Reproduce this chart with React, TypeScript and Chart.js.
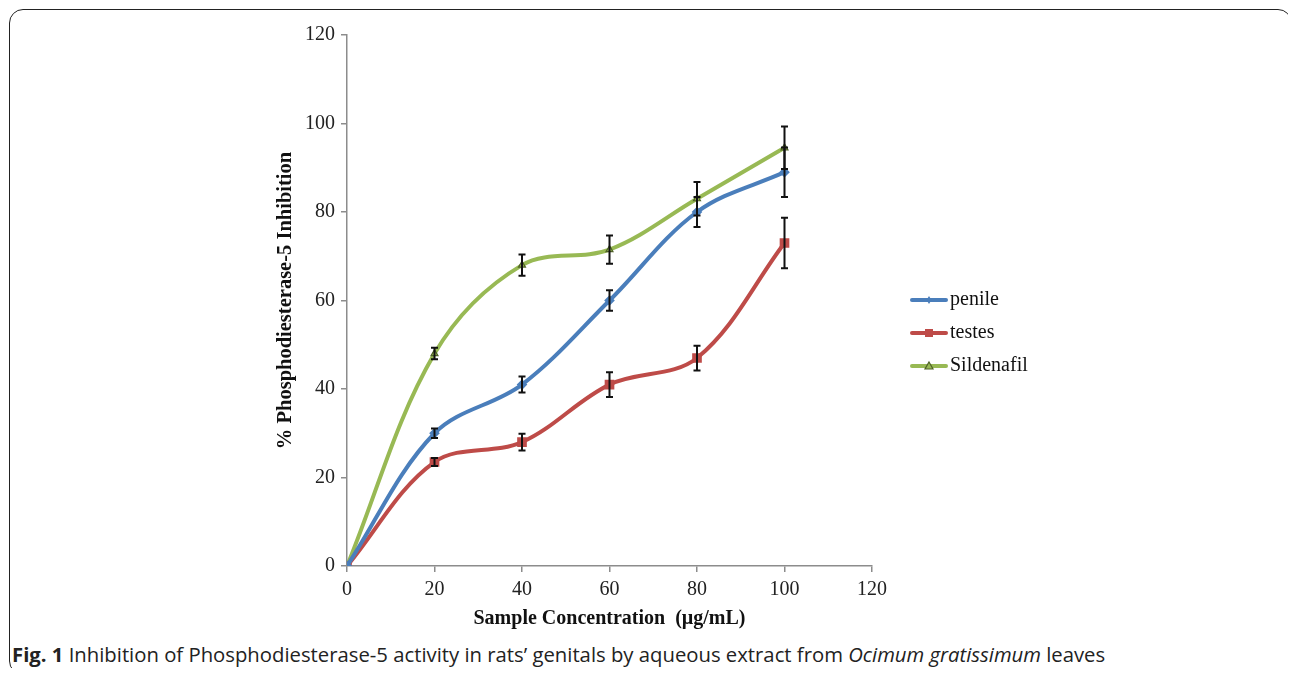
import React, { useEffect, useRef } from "react";
import { Chart, registerables } from "chart.js";

Chart.register(...registerables);

const concentrations = [0, 20, 40, 60, 80, 100];
const penile = [0, 30, 41, 60, 80, 89];
const penileErr = [0, 1.1, 1.8, 2.3, 3.4, 5.6];
const testes = [0, 23.5, 28, 41, 47, 73];
const testesErr = [0, 0.9, 1.9, 2.8, 2.8, 5.7];
const sildenafil = [0, 48, 68, 71.5, 83, 94.5];
const sildenafilErr = [0, 1.3, 2.4, 3.2, 3.8, 4.8];

const seriesNames = ["penile", "testes", "Sildenafil"];
const seriesColors = ["#4A7EBB", "#BE4B48", "#98B954"];
const yTicks = [0, 20, 40, 60, 80, 100, 120];
const xTitle = "Sample Concentration  (\u00b5g/mL)";
const yTitle = "% Phosphodiesterase-5 Inhibition";

const SERIF = "'Liberation Serif', 'Times New Roman', serif";

const errorBarPlugin = {
  id: "errorBars",
  afterDatasetsDraw(chart: any) {
    const { ctx, scales } = chart;
    const xs = scales.x;
    const ys = scales.y;
    ctx.save();
    ctx.strokeStyle = "#111";
    ctx.lineWidth = 2;
    chart.data.datasets.forEach((ds: any) => {
      const errs: number[] = ds.errors || [];
      ds.data.forEach((p: any, i: number) => {
        const e = errs[i];
        if (!e) return;
        const x = xs.getPixelForValue(p.x);
        const yt = ys.getPixelForValue(p.y + e);
        const yb = ys.getPixelForValue(p.y - e);
        ctx.beginPath();
        ctx.moveTo(x, yt);
        ctx.lineTo(x, yb);
        ctx.moveTo(x - 3.5, yt);
        ctx.lineTo(x + 3.5, yt);
        ctx.moveTo(x - 3.5, yb);
        ctx.lineTo(x + 3.5, yb);
        ctx.stroke();
      });
    });
    ctx.restore();
  },
};

const legendPlugin = {
  id: "customLegend",
  afterDraw(chart: any) {
    const { ctx } = chart;
    const x0 = 912;
    const x1 = 946;
    const rows = [300, 333, 366];
    ctx.save();
    chart.data.datasets.forEach((ds: any, i: number) => {
      const y = rows[i];
      ctx.strokeStyle = ds.borderColor;
      ctx.lineWidth = 4;
      ctx.lineCap = "round";
      ctx.beginPath();
      ctx.moveTo(x0, y);
      ctx.lineTo(x1, y);
      ctx.stroke();
      const cx = (x0 + x1) / 2;
      ctx.lineCap = "butt";
      if (ds.pointStyle === "rect") {
        ctx.fillStyle = ds.pointBackgroundColor;
        ctx.fillRect(cx - 4, y - 4, 8, 8);
      } else if (ds.pointStyle === "triangle") {
        ctx.fillStyle = ds.pointBackgroundColor;
        ctx.strokeStyle = ds.pointBorderColor;
        ctx.lineWidth = 1.2;
        ctx.beginPath();
        ctx.moveTo(cx, y - 4);
        ctx.lineTo(cx + 4, y + 3);
        ctx.lineTo(cx - 4, y + 3);
        ctx.closePath();
        ctx.fill();
        ctx.stroke();
      } else {
        ctx.fillStyle = ds.pointBackgroundColor;
        ctx.beginPath();
        ctx.moveTo(cx, y - 4);
        ctx.lineTo(cx + 2.5, y);
        ctx.lineTo(cx, y + 4);
        ctx.lineTo(cx - 2.5, y);
        ctx.closePath();
        ctx.fill();
      }
      ctx.fillStyle = "#111";
      ctx.font = `20px ${SERIF}`;
      ctx.textAlign = "left";
      ctx.textBaseline = "middle";
      ctx.fillText(ds.label, x1 + 4, y);
    });
    ctx.restore();
  },
};

export default function App() {
  const canvasRef = useRef<HTMLCanvasElement | null>(null);

  useEffect(() => {
    document.documentElement.style.overflow = "hidden";
    const canvas = canvasRef.current;
    if (!canvas) return;
    const mk = (vals: number[]) => concentrations.map((c, i) => ({ x: c, y: vals[i] }));
    const chart = new Chart(canvas, {
      type: "line",
      data: {
        datasets: [
          {
            label: seriesNames[0],
            data: mk(penile),
            errors: penileErr,
            borderColor: seriesColors[0],
            backgroundColor: seriesColors[0],
            pointBackgroundColor: seriesColors[0],
            pointBorderColor: seriesColors[0],
            pointStyle: "rectRot",
            pointRadius: 2.5,
            borderWidth: 4,
            tension: 0.35,
          } as any,
          {
            label: seriesNames[1],
            data: mk(testes),
            errors: testesErr,
            borderColor: seriesColors[1],
            backgroundColor: seriesColors[1],
            pointBackgroundColor: seriesColors[1],
            pointBorderColor: seriesColors[1],
            pointStyle: "rect",
            pointRadius: 4,
            borderWidth: 4,
            tension: 0.35,
          } as any,
          {
            label: seriesNames[2],
            data: mk(sildenafil),
            errors: sildenafilErr,
            borderColor: seriesColors[2],
            backgroundColor: seriesColors[2],
            pointBackgroundColor: seriesColors[2],
            pointBorderColor: "#4F6228",
            pointBorderWidth: 1.2,
            pointStyle: "triangle",
            pointRadius: 4,
            borderWidth: 4,
            tension: 0.35,
          } as any,
        ],
      },
      options: {
        animation: false,
        responsive: false,
        maintainAspectRatio: false,
        layout: { padding: { left: 269, right: 424, top: 35, bottom: 5 } },
        plugins: { legend: { display: false }, tooltip: { enabled: false } },
        scales: {
          x: {
            type: "linear",
            min: 0,
            max: 120,
            afterFit: (s: any) => {
              s.height = 69;
            },
            border: { color: "#8c8c8c", width: 1.5 },
            grid: { drawOnChartArea: false, tickLength: 6, color: "#8c8c8c", lineWidth: 1.5 },
            ticks: {
              stepSize: 20,
              padding: 6,
              color: "#222",
              font: { family: SERIF, size: 20 },
            },
            title: {
              display: true,
              text: xTitle,
              color: "#111",
              padding: 4,
              font: { family: SERIF, size: 20, weight: "bold" },
            },
          },
          y: {
            min: 0,
            max: 120,
            afterFit: (s: any) => {
              s.width = 78;
            },
            afterBuildTicks: (s: any) => {
              s.ticks = yTicks.map((v) => ({ value: v }));
            },
            border: { color: "#8c8c8c", width: 1.5 },
            grid: { drawOnChartArea: false, tickLength: 6, color: "#8c8c8c", lineWidth: 1.5 },
            ticks: {
              padding: 6,
              color: "#222",
              font: { family: SERIF, size: 20 },
            },
            title: {
              display: true,
              text: yTitle,
              color: "#111",
              padding: 4,
              font: { family: SERIF, size: 20.5, weight: "bold" },
            },
          },
        },
      } as any,
      plugins: [errorBarPlugin, legendPlugin],
    });
    return () => chart.destroy();
  }, []);

  return (
    <div style={{ position: "relative", width: 1280, height: 660 }}>
      <div
        style={{
          position: "absolute",
          left: 1,
          top: 1,
          width: 1283,
          height: 666,
          border: "1.5px solid #222",
          borderRadius: 14,
          boxSizing: "border-box",
        }}
      />
      <canvas
        ref={canvasRef}
        width={1296}
        height={640}
        style={{ position: "absolute", left: -8, top: -8, width: 1296, height: 640 }}
      />
      <div
        style={{
          position: "absolute",
          left: 4,
          top: 632,
          fontFamily: "'Open Sans', sans-serif",
          fontSize: 20.3,
          lineHeight: "28px",
          color: "#222",
          whiteSpace: "nowrap",
        }}
      >
        <b>Fig. 1</b> Inhibition of Phosphodiesterase-5 activity in rats’ genitals by aqueous extract from{" "}
        <i>Ocimum gratissimum</i> leaves
      </div>
    </div>
  );
}
